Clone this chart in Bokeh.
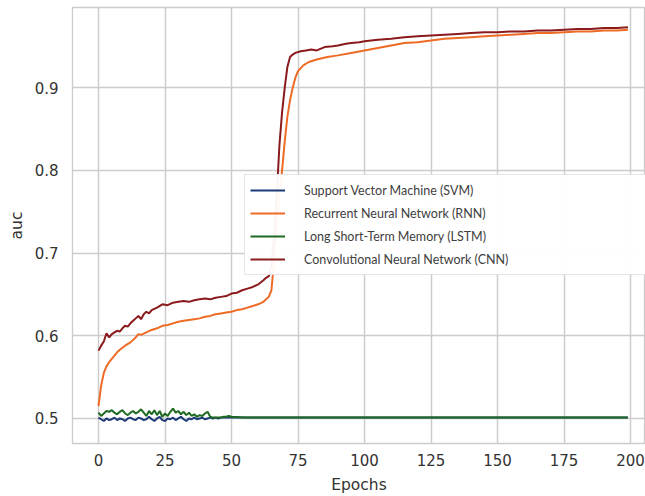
from bokeh.plotting import figure
from bokeh.models import Range1d, FixedTicker, Legend, LegendItem
from bokeh.embed import file_html
from bokeh.resources import INLINE

# ---------------- data ----------------
svm_epochs = list(range(0, 51)) + [55, 60, 70, 80, 90, 100, 110, 120, 130, 140, 150, 160, 170, 180, 190, 199]
svm_auc = [0.501, 0.499, 0.497, 0.500, 0.498, 0.499, 0.501, 0.498, 0.500, 0.499,
           0.497, 0.500, 0.501, 0.499, 0.498, 0.501, 0.500, 0.498, 0.499, 0.502,
           0.499, 0.497, 0.500, 0.502, 0.498, 0.497, 0.500, 0.499, 0.501, 0.498,
           0.500, 0.502, 0.499, 0.497, 0.500, 0.499, 0.501, 0.499, 0.500, 0.501,
           0.499, 0.500, 0.501, 0.500, 0.501, 0.500, 0.501, 0.501, 0.501, 0.501,
           0.501,
           0.501, 0.501, 0.501, 0.501, 0.501, 0.501, 0.501, 0.501, 0.501, 0.501,
           0.501, 0.501, 0.501, 0.501, 0.501, 0.501]

lstm_epochs = list(range(0, 51)) + [55, 60, 70, 80, 90, 100, 110, 120, 130, 140, 150, 160, 170, 180, 190, 199]
lstm_auc = [0.507, 0.503, 0.506, 0.509, 0.508, 0.510, 0.507, 0.505, 0.508, 0.510,
            0.506, 0.504, 0.507, 0.509, 0.506, 0.508, 0.511, 0.507, 0.503, 0.509,
            0.505, 0.510, 0.504, 0.509, 0.502, 0.506, 0.503, 0.508, 0.512, 0.507,
            0.509, 0.505, 0.508, 0.504, 0.507, 0.503, 0.505, 0.502, 0.504, 0.503,
            0.506, 0.508, 0.502, 0.501, 0.501, 0.501, 0.501, 0.502, 0.502, 0.503,
            0.502,
            0.501, 0.501, 0.501, 0.501, 0.501, 0.501, 0.501, 0.501, 0.501, 0.501,
            0.501, 0.501, 0.501, 0.501, 0.501, 0.501]

rnn_epochs = [0, 1, 2, 3, 4, 5, 6, 7, 8, 10, 12, 14, 15, 16, 18, 20, 22, 24, 26, 28,
              30, 32, 34, 36, 38, 40, 42, 44, 46, 48, 50, 52, 54, 56, 58, 60, 62, 63,
              64, 65, 66, 67, 68, 69, 70, 71, 72, 73, 74, 75, 77, 79, 82, 86, 90, 95,
              100, 105, 110, 115, 120, 125, 130, 135, 140, 145, 150, 155, 160, 165,
              170, 175, 180, 185, 190, 195, 199]
rnn_auc = [0.515, 0.540, 0.555, 0.563, 0.568, 0.572, 0.576, 0.580, 0.583, 0.588,
           0.592, 0.598, 0.602, 0.601, 0.604, 0.607, 0.609, 0.612, 0.613, 0.615,
           0.617, 0.618, 0.619, 0.620, 0.621, 0.623, 0.624, 0.626, 0.627, 0.628,
           0.629, 0.631, 0.632, 0.634, 0.636, 0.638, 0.641, 0.644,
           0.647, 0.655, 0.690, 0.730, 0.770, 0.800, 0.835, 0.865, 0.885, 0.900,
           0.912, 0.920, 0.927, 0.931, 0.934, 0.937, 0.939, 0.942,
           0.945, 0.948, 0.951, 0.954, 0.955, 0.957, 0.959, 0.960, 0.961, 0.962,
           0.963, 0.964, 0.965, 0.966, 0.966, 0.967, 0.968, 0.968, 0.969, 0.969,
           0.970]

cnn_epochs = [0, 1, 2, 3, 4, 5, 6, 7, 8, 9, 10, 11, 12, 13, 14, 15, 16, 17, 18, 19,
              20, 22, 24, 26, 28, 30, 32, 34, 36, 38, 40, 42, 44, 46, 48, 50, 52, 54,
              56, 58, 60, 62, 63, 64, 65, 66, 67, 68, 69, 70, 71, 72, 73, 74, 76, 78,
              80, 82, 85, 88, 90, 93, 95, 98, 100, 105, 110, 115, 120, 125, 130, 135,
              140, 145, 150, 155, 160, 165, 170, 175, 180, 185, 190, 195, 199]
cnn_auc = [0.582, 0.588, 0.593, 0.603, 0.598, 0.602, 0.604, 0.606, 0.605, 0.609,
           0.612, 0.611, 0.615, 0.618, 0.621, 0.624, 0.620, 0.626, 0.629, 0.627,
           0.631, 0.634, 0.638, 0.637, 0.640, 0.641, 0.642, 0.641, 0.643, 0.644,
           0.645, 0.644, 0.646, 0.647, 0.648, 0.651, 0.652, 0.655, 0.657, 0.659,
           0.662, 0.667, 0.670, 0.672, 0.685, 0.720, 0.770, 0.830, 0.870, 0.900,
           0.925, 0.937, 0.940, 0.942, 0.944, 0.945, 0.946, 0.945, 0.949, 0.950,
           0.951, 0.953, 0.954, 0.955, 0.956, 0.958, 0.959, 0.961, 0.962, 0.963,
           0.964, 0.965, 0.966, 0.967, 0.967, 0.968, 0.968, 0.969, 0.969, 0.970,
           0.971, 0.971, 0.972, 0.972, 0.973]

series_names = ["Support Vector Machine (SVM)", "Recurrent Neural Network (RNN)",
                "Long Short-Term Memory (LSTM)", "Convolutional Neural Network (CNN)"]
series_colors = ["#1c3a78", "#ee6b26", "#1f6a22", "#8a1a1c"]

x_ticks = [0, 25, 50, 75, 100, 125, 150, 175, 200]
y_ticks = [0.5, 0.6, 0.7, 0.8, 0.9]

# ---------------- figure ----------------
p = figure(width=645, height=496, output_backend="svg", toolbar_location=None,
           x_range=Range1d(-9.77, 205.6), y_range=Range1d(0.4697, 0.9969),
           min_border_left=72, min_border_right=0, min_border_top=7, min_border_bottom=53)
p.background_fill_color = "white"
p.border_fill_color = "white"
p.outline_line_color = "#cccccc"
p.outline_line_width = 1.3

p.xaxis.ticker = FixedTicker(ticks=x_ticks)
p.yaxis.ticker = FixedTicker(ticks=y_ticks)
for ax in (p.xaxis[0], p.yaxis[0]):
    ax.axis_line_color = None
    ax.major_tick_line_color = None
    ax.minor_tick_line_color = None
    ax.major_tick_out = 0
    ax.major_tick_in = 0
    ax.major_label_text_font = "DejaVu Sans"
    ax.major_label_text_font_size = "15px"
    ax.major_label_text_color = "#333333"
    ax.axis_label_text_font = "DejaVu Sans"
    ax.axis_label_text_font_size = "15.5px"
    ax.axis_label_text_font_style = "normal"
    ax.axis_label_text_color = "#333333"
p.xaxis.axis_label = "Epochs"
p.yaxis.axis_label = "auc"
p.xaxis.major_label_standoff = 10
p.xaxis.axis_label_standoff = 7
p.yaxis.major_label_standoff = 14
p.yaxis.axis_label_standoff = 6

p.xgrid.ticker = FixedTicker(ticks=x_ticks)
p.ygrid.ticker = FixedTicker(ticks=y_ticks)
for g in (p.xgrid[0], p.ygrid[0]):
    g.grid_line_color = "#cccccc"
    g.grid_line_width = 1.5

datas = [(svm_epochs, svm_auc), (rnn_epochs, rnn_auc), (lstm_epochs, lstm_auc), (cnn_epochs, cnn_auc)]
items = []
for (xs, ys), name, col in zip(datas, series_names, series_colors):
    r = p.line(xs, ys, line_color=col, line_width=2)
    items.append(LegendItem(label=name, renderers=[r]))

legend = Legend(items=items, location=(172, 168))
legend.label_text_font = "Lato"
legend.label_text_font_size = "12.5px"
legend.label_text_color = "#404040"
legend.glyph_width = 35
legend.glyph_height = 20
legend.label_height = 20
legend.label_standoff = 19
legend.spacing = 3
legend.padding = 5
legend.margin = 0
legend.label_width = 337
legend.border_line_color = "#cccccc"
legend.border_line_width = 1
legend.background_fill_color = "white"
legend.background_fill_alpha = 0.95
p.add_layout(legend, "center")

open("out.html", "w").write(file_html(p, INLINE))
